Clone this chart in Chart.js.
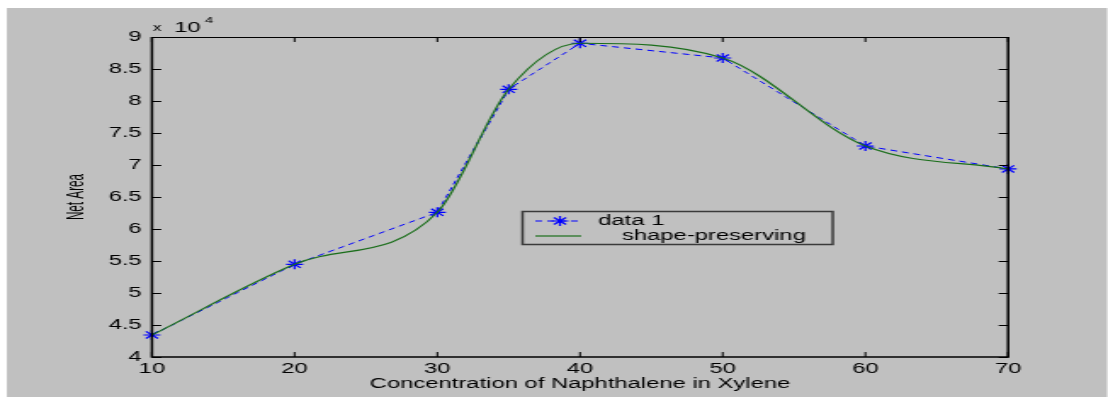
<!DOCTYPE html>
<html>
<head>
<meta charset="utf-8">
<script src="https://cdn.jsdelivr.net/npm/chart.js@4"></script>
<style>
  html, body { margin: 0; padding: 0; background: #fff; overflow: hidden; }
</style>
</head>
<body>
<!-- the original figure is a horizontally stretched matlab export,
     so the canvas is drawn narrow and widened by its inline style -->
<canvas id="myLineChart" width="652" height="397" style="display:block;width:1108px;height:397px"></canvas>
<script>
// values
const concentration = [10, 20, 30, 35, 40, 50, 60, 70];
const netArea = [43440, 54480, 62610, 81830, 89020, 86720, 72970, 69380];
const xTicks = [10, 20, 30, 40, 50, 60, 70];
const yTicks = [4, 4.5, 5, 5.5, 6, 6.5, 7, 7.5, 8, 8.5, 9]; // x 10^4
const seriesNames = ['data 1', 'shape-preserving'];
const xTitle = 'Concentration of Naphthalene in Xylene';
const yTitle = 'Net Area';
const exponentBase = '10';
const exponentPower = '4';

Chart.defaults.font.family = "'Liberation Sans', Arial, sans-serif";
Chart.defaults.font.size = 14;
Chart.defaults.color = '#000';

const points = concentration.map((c, i) => ({ x: c, y: netArea[i] }));

// matlab-like frame, inward ticks, legend box and exponent label
const matlabLook = {
    id: 'matlabLook',
    beforeDraw(chart) {
        const ctx = chart.ctx;
        ctx.save();
        ctx.fillStyle = '#c0c0c0';
        ctx.fillRect(4, 8, 647.5, 389);
        ctx.restore();
    },
    afterDatasetsDraw(chart) {
        const ctx = chart.ctx;
        const { left, right, top, bottom } = chart.chartArea;
        const xs = chart.scales.x, ys = chart.scales.y;
        ctx.save();
        ctx.strokeStyle = '#000';
        ctx.lineWidth = 1;
        ctx.beginPath();
        xs.ticks.forEach((t) => {
            const px = xs.getPixelForValue(t.value);
            ctx.moveTo(px, bottom); ctx.lineTo(px, bottom - 5);
            ctx.moveTo(px, top); ctx.lineTo(px, top + 5);
        });
        ys.ticks.forEach((t) => {
            const py = Math.round(ys.getPixelForValue(t.value)) + 0.5;
            ctx.moveTo(left, py); ctx.lineTo(left + 5.5, py);
            ctx.moveTo(right, py); ctx.lineTo(right - 5.5, py);
        });
        ctx.stroke();
        // box
        ctx.beginPath();
        ctx.moveTo(left, top + 0.5); ctx.lineTo(right, top + 0.5);
        ctx.stroke();
        ctx.lineWidth = 1.5;
        ctx.beginPath();
        ctx.moveTo(left, bottom); ctx.lineTo(right, bottom);
        ctx.moveTo(left, top); ctx.lineTo(left, bottom + 0.75);
        ctx.moveTo(right, top); ctx.lineTo(right, bottom + 0.75);
        ctx.stroke();
        ctx.restore();
    },
    afterDraw(chart) {
        const ctx = chart.ctx;
        const ds = chart.data.datasets;
        const left = chart.chartArea.left;
        ctx.save();
        ctx.fillStyle = '#000';
        ctx.textBaseline = 'alphabetic';

        // exponent above the y axis
        ctx.font = "10px 'Liberation Sans'";
        ctx.fillText('x', left + 0.5, 31);
        ctx.font = "14px 'Liberation Sans'";
        ctx.fillText(exponentBase, left + 13, 32);
        ctx.font = "9px 'Liberation Sans'";
        ctx.fillText(exponentPower, left + 31, 23);

        // legend
        ctx.strokeStyle = '#3a3a3a';
        ctx.lineWidth = 1.5;
        ctx.strokeRect(307.5, 211.5, 182.5, 33);
        ctx.font = "14px 'Liberation Sans'";
        ctx.textBaseline = 'middle';

        ctx.strokeStyle = ds[0].borderColor;
        ctx.lineWidth = ds[0].borderWidth;
        ctx.setLineDash(ds[0].borderDash);
        ctx.beginPath();
        ctx.moveTo(315, 221); ctx.lineTo(340, 221);
        ctx.stroke();
        ctx.setLineDash([]);
        ctx.lineWidth = ds[0].pointBorderWidth;
        Chart.helpers.drawPoint(ctx, { pointStyle: 'star', radius: ds[0].pointRadius, rotation: 0, borderWidth: 1 }, 329.5, 221);
        ctx.fillText(ds[0].label, 352, 221);

        ctx.strokeStyle = ds[1].borderColor;
        ctx.lineWidth = ds[1].borderWidth;
        ctx.beginPath();
        ctx.moveTo(315, 236); ctx.lineTo(342, 236);
        ctx.stroke();
        ctx.fillText(ds[1].label, 366, 236);

        // y axis title, condensed along its length
        ctx.font = "15px 'Liberation Sans'";
        ctx.textAlign = 'center';
        ctx.translate(44.5, (chart.chartArea.top + chart.chartArea.bottom) / 2);
        ctx.rotate(-Math.PI / 2);
        ctx.scale(0.78, 1);
        ctx.fillText(yTitle, 0, 0);
        ctx.restore();
    }
};

window.onload = function () {
    const ctx = document.getElementById('myLineChart');

    new Chart(ctx, {
        type: 'line',
        data: {
            datasets: [{
                label: seriesNames[0],
                data: points,
                borderColor: '#0000ff',
                borderWidth: 1,
                borderDash: [4, 3],
                pointStyle: 'star',
                pointRadius: 5,
                pointBorderColor: '#0000ff',
                pointBorderWidth: 1.2,
                tension: 0,
                clip: false,
                order: 1
            }, {
                label: seriesNames[1],
                data: points,
                borderColor: '#1b6e1b',
                borderWidth: 1.2,
                pointRadius: 0,
                cubicInterpolationMode: 'monotone',
                order: 0
            }]
        },
        options: {
            responsive: false,
            animation: false,
            layout: {
                padding: { left: 0, top: 37, right: 58.8, bottom: 0 }
            },
            plugins: {
                legend: { display: false },
                tooltip: { enabled: false }
            },
            scales: {
                x: {
                    type: 'linear',
                    min: 10,
                    max: 70,
                    grid: { display: false, drawTicks: false },
                    border: { display: false },
                    afterBuildTicks: (scale) => { scale.ticks = xTicks.map((v) => ({ value: v })); },
                    afterFit: (scale) => { scale.height = 40; },
                    ticks: { padding: 4, maxRotation: 0, autoSkip: false },
                    title: {
                        display: true,
                        text: xTitle,
                        padding: { top: 0, bottom: 4 }
                    }
                },
                y: {
                    type: 'linear',
                    min: 40000,
                    max: 90000,
                    grid: { display: false, drawTicks: false },
                    border: { display: false },
                    afterBuildTicks: (scale) => { scale.ticks = yTicks.map((v) => ({ value: v * 10000 })); },
                    afterFit: (scale) => { scale.width = 89.4; },
                    ticks: {
                        padding: 6,
                        autoSkip: false,
                        callback: (value) => value / 10000
                    }
                }
            }
        },
        plugins: [matlabLook]
    });
};
</script>
</body>
</html>
